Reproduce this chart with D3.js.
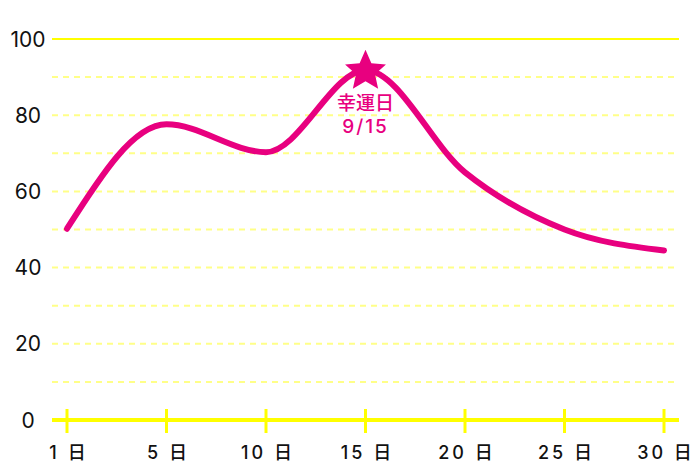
<!DOCTYPE html>
<html>
<head>
<meta charset="utf-8">
<script src="https://cdn.jsdelivr.net/npm/d3@7"></script>
<style>
  body { margin: 0; background: #fff; }
  svg { display: block; font-family: Inter, "Noto Sans CJK JP", sans-serif; }
</style>
</head>
<body>
<svg></svg>
<script>
const days = ['1', '5', '10', '15', '20', '25', '30'],
      luck = [50.2, 77.6, 70.3, 91.8, 65, 50, 44.5],
      yTicks = [0, 20, 40, 60, 80, 100],
      luckyDay = '15',
      luckyText = ['幸運日', '9/15'];

const width = 700,
      height = 467,
      pink = '#e8007f',
      yellow = '#ffff00';

const svg = d3.select('svg')
  .attr('width', width)
  .attr('height', height);

const x = d3.scalePoint()
  .domain(days)
  .range([67, 664]);

const y = d3.scaleLinear()
  .domain([0, 100])
  .range([420, 39]);

// grid: dashed every 10, solid at top
svg.append('g')
  .selectAll('line')
  .data(d3.range(10, 101, 10))
  .enter().append('line')
  .attr('x1', 52)
  .attr('x2', 679)
  .attr('y1', d => y(d))
  .attr('y2', d => y(d))
  .attr('stroke', d => d === 100 ? yellow : '#ffff88')
  .attr('stroke-width', 2)
  .attr('stroke-dasharray', d => d === 100 ? null : '6,5');

// y labels
svg.append('g')
  .selectAll('text')
  .data(yTicks)
  .enter().append('text')
  .attr('x', 28)
  .attr('y', d => y(d))
  .attr('dy', '0.36em')
  .attr('text-anchor', 'middle')
  .attr('font-size', 21)
  .attr('fill', '#111')
  .text(d => d);

// x axis line and ticks
svg.append('line')
  .attr('x1', 52).attr('x2', 679)
  .attr('y1', y(0)).attr('y2', y(0))
  .attr('stroke', yellow)
  .attr('stroke-width', 4);

svg.append('g')
  .selectAll('line')
  .data(days)
  .enter().append('line')
  .attr('x1', d => x(d)).attr('x2', d => x(d))
  .attr('y1', 409).attr('y2', 433)
  .attr('stroke', yellow)
  .attr('stroke-width', 3);

svg.append('g')
  .selectAll('text')
  .data(days)
  .enter().append('text')
  .attr('x', d => x(d) + 2)
  .attr('y', 459)
  .attr('text-anchor', 'middle')
  .attr('font-size', 18)
  .attr('font-weight', 500)
  .attr('letter-spacing', 3)
  .attr('fill', '#111')
  .text(d => d + ' 日');

// luck curve
const line = d3.line()
  .x((d, i) => x(days[i]))
  .y(d => y(d))
  .curve(d3.curveMonotoneX);

svg.append('path')
  .datum(luck)
  .attr('d', line)
  .attr('fill', 'none')
  .attr('stroke', pink)
  .attr('stroke-width', 6)
  .attr('stroke-linecap', 'round');

// lucky day star, five points
const li = days.indexOf(luckyDay);
const starPts = d3.range(10).map(i => [i * Math.PI / 5, i % 2 ? 10 : 21.5]);
const star = d3.lineRadial().curve(d3.curveLinearClosed);

svg.append('path')
  .attr('d', star(starPts))
  .attr('transform', 'translate(' + [x(luckyDay), y(luck[li]) + 1] + ')')
  .attr('fill', pink);

svg.append('g')
  .selectAll('text')
  .data(luckyText)
  .enter().append('text')
  .attr('x', x(luckyDay))
  .attr('y', (d, i) => 110 + i * 23)
  .attr('text-anchor', 'middle')
  .attr('font-size', 19)
  .attr('font-weight', 500)
  .attr('letter-spacing', (d, i) => i ? 2 : 0)
  .attr('fill', pink)
  .text(d => d);
</script>
</body>
</html>
